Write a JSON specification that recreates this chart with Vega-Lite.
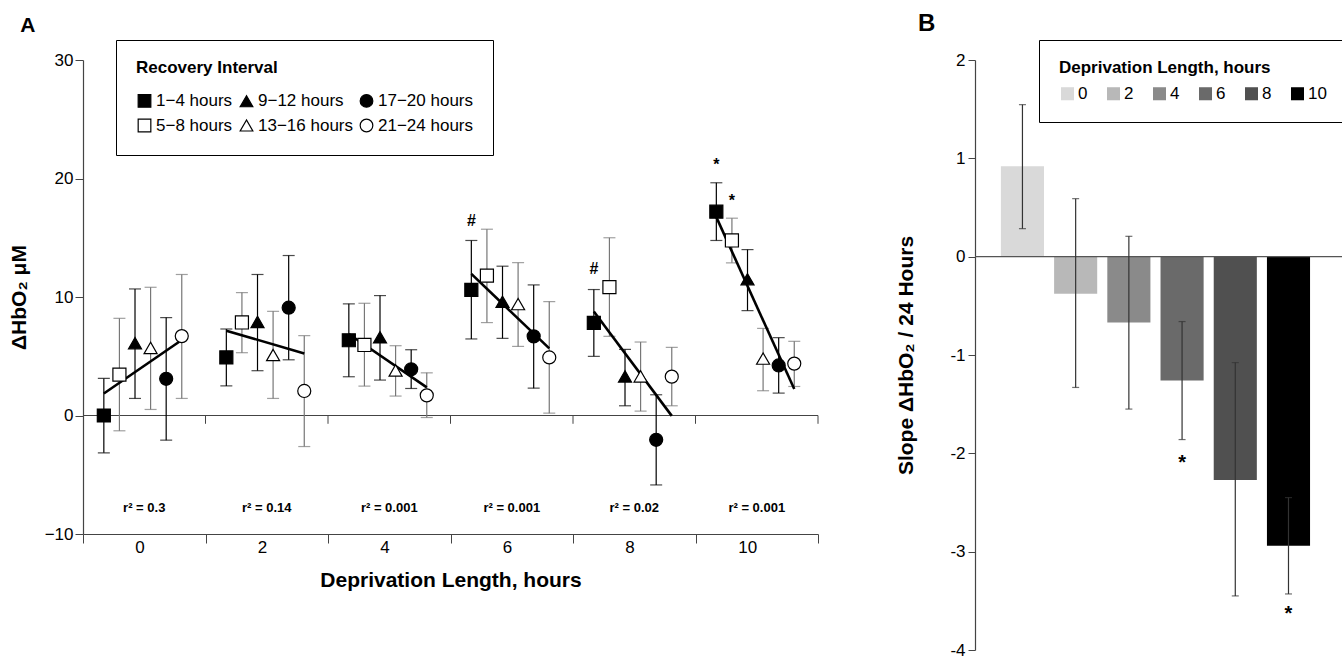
{
  "$schema": "https://vega.github.io/schema/vega-lite/v6.json",
  "padding": {"left": 8, "top": 11, "right": 0, "bottom": 0},
  "spacing": 76,
  "background": "white",
  "config": {
    "font": "Liberation Sans",
    "view": {"stroke": null},
    "axis": {"domainColor": "#444", "tickColor": "#444", "labelColor": "black", "titleColor": "black", "grid": false, "labelFontSize": 17, "titleFontSize": 21, "titleFontWeight": "bold", "labelFont": "Liberation Sans", "titleFont": "Liberation Sans"},
    "title": {"font": "Liberation Sans", "fontWeight": "bold", "color": "black"}
  },
  "resolve": {"scale": {"color": "independent", "fill": "independent", "stroke": "independent", "shape": "independent", "size": "independent", "x": "independent", "y": "independent"}},
  "datasets": {
    "pts": [
      {"dep": 0, "interval": "1−4 hours", "mean": 0, "lo": -3.15, "hi": 3.13},
      {"dep": 0, "interval": "5−8 hours", "mean": 3.45, "lo": -1.29, "hi": 8.2},
      {"dep": 0, "interval": "9−12 hours", "mean": 6.1, "lo": 1.44, "hi": 10.68},
      {"dep": 0, "interval": "13−16 hours", "mean": 5.7, "lo": 0.51, "hi": 10.82},
      {"dep": 0, "interval": "17−20 hours", "mean": 3.1, "lo": -2.08, "hi": 8.26},
      {"dep": 0, "interval": "21−24 hours", "mean": 6.7, "lo": 1.44, "hi": 11.9},
      {"dep": 2, "interval": "1−4 hours", "mean": 4.9, "lo": 2.5, "hi": 7.3},
      {"dep": 2, "interval": "5−8 hours", "mean": 7.85, "lo": 5.3, "hi": 10.37},
      {"dep": 2, "interval": "9−12 hours", "mean": 7.9, "lo": 3.78, "hi": 11.9},
      {"dep": 2, "interval": "13−16 hours", "mean": 5.1, "lo": 1.44, "hi": 8.79},
      {"dep": 2, "interval": "17−20 hours", "mean": 9.1, "lo": 4.7, "hi": 13.5},
      {"dep": 2, "interval": "21−24 hours", "mean": 2.07, "lo": -2.62, "hi": 6.74},
      {"dep": 4, "interval": "1−4 hours", "mean": 6.35, "lo": 3.27, "hi": 9.42},
      {"dep": 4, "interval": "5−8 hours", "mean": 5.95, "lo": 2.48, "hi": 9.47},
      {"dep": 4, "interval": "9−12 hours", "mean": 6.6, "lo": 2.99, "hi": 10.12},
      {"dep": 4, "interval": "13−16 hours", "mean": 3.8, "lo": 1.64, "hi": 5.89},
      {"dep": 4, "interval": "17−20 hours", "mean": 3.9, "lo": 2.28, "hi": 5.55},
      {"dep": 4, "interval": "21−24 hours", "mean": 1.7, "lo": -0.17, "hi": 3.6},
      {"dep": 6, "interval": "1−4 hours", "mean": 10.6, "lo": 6.46, "hi": 14.77},
      {"dep": 6, "interval": "5−8 hours", "mean": 11.8, "lo": 7.84, "hi": 15.72},
      {"dep": 6, "interval": "9−12 hours", "mean": 9.6, "lo": 6.51, "hi": 12.6},
      {"dep": 6, "interval": "13−16 hours", "mean": 9.4, "lo": 5.83, "hi": 12.9},
      {"dep": 6, "interval": "17−20 hours", "mean": 6.68, "lo": 2.31, "hi": 11.02},
      {"dep": 6, "interval": "21−24 hours", "mean": 4.9, "lo": 0.2, "hi": 9.61},
      {"dep": 8, "interval": "1−4 hours", "mean": 7.81, "lo": 4.99, "hi": 10.63},
      {"dep": 8, "interval": "5−8 hours", "mean": 10.84, "lo": 6.68, "hi": 15.0},
      {"dep": 8, "interval": "9−12 hours", "mean": 3.3, "lo": 0.82, "hi": 5.58},
      {"dep": 8, "interval": "13−16 hours", "mean": 3.3, "lo": 0.37, "hi": 6.2},
      {"dep": 8, "interval": "17−20 hours", "mean": -2.05, "lo": -5.86, "hi": 1.75},
      {"dep": 8, "interval": "21−24 hours", "mean": 3.28, "lo": 0.82, "hi": 5.75},
      {"dep": 10, "interval": "1−4 hours", "mean": 17.2, "lo": 14.77, "hi": 19.64},
      {"dep": 10, "interval": "5−8 hours", "mean": 14.77, "lo": 12.88, "hi": 16.65},
      {"dep": 10, "interval": "9−12 hours", "mean": 11.5, "lo": 8.85, "hi": 14.0},
      {"dep": 10, "interval": "13−16 hours", "mean": 4.8, "lo": 2.09, "hi": 7.35},
      {"dep": 10, "interval": "17−20 hours", "mean": 4.22, "lo": 1.89, "hi": 6.57},
      {"dep": 10, "interval": "21−24 hours", "mean": 4.38, "lo": 2.45, "hi": 6.26}
    ],
    "fits": [
      {"dep": 0, "interval": "1−4 hours", "fit": 1.86},
      {"dep": 0, "interval": "21−24 hours", "fit": 6.37},
      {"dep": 2, "interval": "1−4 hours", "fit": 7.16},
      {"dep": 2, "interval": "21−24 hours", "fit": 5.24},
      {"dep": 4, "interval": "1−4 hours", "fit": 6.88},
      {"dep": 4, "interval": "21−24 hours", "fit": 2.37},
      {"dep": 6, "interval": "1−4 hours", "fit": 11.95},
      {"dep": 6, "interval": "21−24 hours", "fit": 5.66},
      {"dep": 8, "interval": "1−4 hours", "fit": 8.77},
      {"dep": 8, "interval": "21−24 hours", "fit": -0.03},
      {"dep": 10, "interval": "1−4 hours", "fit": 16.74},
      {"dep": 10, "interval": "21−24 hours", "fit": 2.23}
    ],
    "r2": [
      {"dep": 0, "label": "r² = 0.3"},
      {"dep": 2, "label": "r² = 0.14"},
      {"dep": 4, "label": "r² = 0.001"},
      {"dep": 6, "label": "r² = 0.001"},
      {"dep": 8, "label": "r² = 0.02"},
      {"dep": 10, "label": "r² = 0.001"}
    ],
    "marksA": [
      {"dep": 6, "interval": "1−4 hours", "y": 16.4, "label": "#"},
      {"dep": 8, "interval": "1−4 hours", "y": 12.4, "label": "#"},
      {"dep": 10, "interval": "1−4 hours", "y": 21.1, "label": "*"},
      {"dep": 10, "interval": "5−8 hours", "y": 18.1, "label": "*"}
    ],
    "bars": [
      {"dep": "0", "slope": 0.92, "lo": 0.285, "hi": 1.546},
      {"dep": "2", "slope": -0.376, "lo": -1.33, "hi": 0.59},
      {"dep": "4", "slope": -0.67, "lo": -1.55, "hi": 0.207},
      {"dep": "6", "slope": -1.26, "lo": -1.86, "hi": -0.66},
      {"dep": "8", "slope": -2.27, "lo": -3.45, "hi": -1.077},
      {"dep": "10", "slope": -2.94, "lo": -3.43, "hi": -2.45}
    ],
    "marksB": [
      {"dep": "6", "y": -2.1, "label": "*"},
      {"dep": "10", "y": -3.63, "label": "*"}
    ]
  },
  "hconcat": [
    {
      "width": 735,
      "height": 474,
      "title": {"text": "A", "anchor": "start", "frame": "bounds", "fontSize": 21, "dx": 12, "offset": 4},
      "layer": [
        {
          "data": {"values": [{"z": 0}]},
          "mark": {"type": "rule", "color": "#444", "strokeWidth": 1.2},
          "encoding": {"y": {"field": "z", "type": "quantitative"}}
        },
        {
          "data": {"values": [{"dep": 2}, {"dep": 4}, {"dep": 6}, {"dep": 8}, {"dep": 10}]},
          "mark": {"type": "rule", "color": "#444"},
          "encoding": {
            "x": {"field": "dep", "type": "ordinal", "bandPosition": 0},
            "y": {"datum": 0, "type": "quantitative"},
            "y2": {"datum": -0.7}
          }
        },
        {
          "data": {"values": [{"dep": 10}]},
          "mark": {"type": "rule", "color": "#444"},
          "encoding": {
            "x": {"field": "dep", "type": "ordinal", "bandPosition": 1},
            "y": {"datum": 0, "type": "quantitative"},
            "y2": {"datum": -0.7}
          }
        },
        {
          "data": {"name": "pts"},
          "mark": {"type": "rule", "strokeWidth": 1.2},
          "encoding": {
            "x": {"field": "dep", "type": "ordinal"},
            "xOffset": {"field": "interval", "type": "nominal"},
            "y": {"field": "lo", "type": "quantitative"},
            "y2": {"field": "hi"},
            "stroke": {"condition": {"test": "indexof(['1−4 hours', '9−12 hours', '17−20 hours'], datum.interval) >= 0", "value": "black"}, "value": "#777"}
          }
        },
        {
          "data": {"name": "pts"},
          "mark": {"type": "tick", "size": 12, "thickness": 1.2},
          "encoding": {
            "x": {"field": "dep", "type": "ordinal"},
            "xOffset": {"field": "interval", "type": "nominal"},
            "y": {"field": "lo", "type": "quantitative"},
            "color": {"condition": {"test": "indexof(['1−4 hours', '9−12 hours', '17−20 hours'], datum.interval) >= 0", "value": "black"}, "value": "#777"}
          }
        },
        {
          "data": {"name": "pts"},
          "mark": {"type": "tick", "size": 12, "thickness": 1.2},
          "encoding": {
            "x": {"field": "dep", "type": "ordinal"},
            "xOffset": {"field": "interval", "type": "nominal"},
            "y": {"field": "hi", "type": "quantitative"},
            "color": {"condition": {"test": "indexof(['1−4 hours', '9−12 hours', '17−20 hours'], datum.interval) >= 0", "value": "black"}, "value": "#777"}
          }
        },
        {
          "data": {"name": "fits"},
          "mark": {"type": "line", "color": "black", "strokeWidth": 2.6},
          "encoding": {
            "x": {"field": "dep", "type": "ordinal"},
            "xOffset": {"field": "interval", "type": "nominal"},
            "y": {"field": "fit", "type": "quantitative"},
            "detail": {"field": "dep"}
          }
        },
        {
          "data": {"name": "pts"},
          "mark": {"type": "point", "strokeWidth": 1.2, "opacity": 1, "size": 170},
          "encoding": {
            "x": {
              "field": "dep", "type": "ordinal",
              "scale": {"type": "band", "paddingInner": 0, "paddingOuter": 0},
              "axis": {"title": "Deprivation Length, hours", "labelAngle": 0, "tickBand": "extent", "tickSize": 9, "labelPadding": 4, "titlePadding": 14, "domainWidth": 1.2}
            },
            "xOffset": {
              "field": "interval", "type": "nominal",
              "scale": {"type": "band", "paddingInner": 0, "paddingOuter": 0.93, "align": 0.45, "domain": ["1−4 hours", "5−8 hours", "9−12 hours", "13−16 hours", "17−20 hours", "21−24 hours"]}
            },
            "y": {
              "field": "mean", "type": "quantitative",
              "scale": {"domain": [-10, 30], "nice": false, "zero": false},
              "axis": {"title": "ΔHbO₂ μM", "values": [-10, 0, 10, 20, 30], "tickSize": 8, "labelPadding": 2, "titlePadding": 15, "domainWidth": 1.2}
            },
            "shape": {
              "field": "interval", "type": "nominal",
              "scale": {"domain": ["1−4 hours", "9−12 hours", "17−20 hours", "5−8 hours", "13−16 hours", "21−24 hours"], "range": ["square", "triangle-up", "circle", "square", "triangle-up", "circle"]},
              "legend": {"title": "Recovery Interval", "orient": "none", "legendX": 33, "legendY": -20, "direction": "horizontal", "columns": 3, "strokeColor": "black", "fillColor": "white", "padding": 20, "titleFontSize": 17, "titleFontWeight": "bold", "titleColor": "black", "labelFontSize": 17, "labelColor": "black", "symbolStrokeWidth": 1.2, "symbolSize": 160, "columnPadding": 4, "rowPadding": 6, "titlePadding": 15, "labelOffset": 3, "labelLimit": 300}
            },
            "fill": {
              "field": "interval", "type": "nominal",
              "scale": {"domain": ["1−4 hours", "9−12 hours", "17−20 hours", "5−8 hours", "13−16 hours", "21−24 hours"], "range": ["black", "black", "black", "white", "white", "white"]},
              "legend": {"title": "Recovery Interval", "orient": "none", "legendX": 33, "legendY": -20, "direction": "horizontal", "columns": 3, "strokeColor": "black", "fillColor": "white", "padding": 20, "titleFontSize": 17, "titleFontWeight": "bold", "titleColor": "black", "labelFontSize": 17, "labelColor": "black", "symbolStrokeWidth": 1.2, "symbolSize": 160, "columnPadding": 4, "rowPadding": 6, "titlePadding": 15, "labelOffset": 3, "labelLimit": 300}
            },
            "stroke": {
              "field": "interval", "type": "nominal",
              "scale": {"domain": ["1−4 hours", "9−12 hours", "17−20 hours", "5−8 hours", "13−16 hours", "21−24 hours"], "range": ["black", "black", "black", "black", "black", "black"]},
              "legend": {"title": "Recovery Interval", "orient": "none", "legendX": 33, "legendY": -20, "direction": "horizontal", "columns": 3, "strokeColor": "black", "fillColor": "white", "padding": 20, "titleFontSize": 17, "titleFontWeight": "bold", "titleColor": "black", "labelFontSize": 17, "labelColor": "black", "symbolStrokeWidth": 1.2, "symbolSize": 160, "columnPadding": 4, "rowPadding": 6, "titlePadding": 15, "labelOffset": 3, "labelLimit": 300}
            }
          }
        },
        {
          "data": {"name": "r2"},
          "mark": {"type": "text", "fontSize": 13, "fontWeight": "bold", "color": "black", "baseline": "middle"},
          "encoding": {
            "x": {"field": "dep", "type": "ordinal"},
            "y": {"datum": -7.8, "type": "quantitative"},
            "text": {"field": "label"}
          }
        },
        {
          "data": {"name": "marksA"},
          "mark": {"type": "text", "fontSize": 16, "fontWeight": "bold", "color": "black", "baseline": "middle"},
          "encoding": {
            "x": {"field": "dep", "type": "ordinal"},
            "xOffset": {"field": "interval", "type": "nominal"},
            "y": {"field": "y", "type": "quantitative"},
            "text": {"field": "label"}
          }
        }
      ]
    },
    {
      "width": 368,
      "height": 590,
      "title": {"text": "B", "anchor": "start", "frame": "bounds", "fontSize": 24, "dx": 22, "offset": 4},
      "layer": [
        {
          "data": {"name": "bars"},
          "mark": {"type": "bar"},
          "encoding": {
            "x": {"field": "dep", "type": "ordinal", "sort": ["0", "2", "4", "6", "8", "10"], "scale": {"type": "band", "paddingInner": 0.19, "paddingOuter": 0.553, "align": 0.44}, "axis": null},
            "y": {
              "field": "slope", "type": "quantitative",
              "scale": {"domain": [-4, 2], "nice": false},
              "axis": {"title": "Slope ΔHbO₂ / 24 Hours", "values": [-4, -3, -2, -1, 0, 1, 2], "format": "d", "labelExpr": "replace(datum.label, '−', '-')", "tickSize": 7, "labelPadding": 3, "titlePadding": 33, "domainWidth": 1.2}
            },
            "color": {
              "field": "dep", "type": "ordinal", "sort": ["0", "2", "4", "6", "8", "10"],
              "scale": {"domain": ["0", "2", "4", "6", "8", "10"], "range": ["#d9d9d9", "#b8b8b8", "#8a8a8a", "#6a6a6a", "#505050", "#000000"]},
              "legend": {"title": "Deprivation Length, hours", "orient": "none", "legendX": 64, "legendY": -20, "direction": "horizontal", "columns": 6, "strokeColor": "black", "fillColor": "white", "padding": 20, "titleFontSize": 17, "titleFontWeight": "bold", "titleColor": "black", "titleLimit": 400, "labelFontSize": 17, "labelColor": "black", "symbolType": "square", "symbolSize": 170, "symbolStrokeWidth": 0, "columnPadding": 17, "titlePadding": 8, "labelOffset": 2}
            }
          }
        },
        {
          "data": {"values": [{"z": 0}]},
          "mark": {"type": "rule", "color": "#555", "strokeWidth": 1.2},
          "encoding": {"y": {"field": "z", "type": "quantitative"}}
        },
        {
          "data": {"name": "bars"},
          "mark": {"type": "rule", "color": "#333", "strokeWidth": 1.2},
          "encoding": {
            "x": {"field": "dep", "type": "ordinal", "sort": ["0", "2", "4", "6", "8", "10"]},
            "y": {"field": "lo", "type": "quantitative"},
            "y2": {"field": "hi"}
          }
        },
        {
          "data": {"name": "bars"},
          "mark": {"type": "tick", "size": 7, "thickness": 1.2, "color": "#333"},
          "encoding": {
            "x": {"field": "dep", "type": "ordinal", "sort": ["0", "2", "4", "6", "8", "10"]},
            "y": {"field": "lo", "type": "quantitative"}
          }
        },
        {
          "data": {"name": "bars"},
          "mark": {"type": "tick", "size": 7, "thickness": 1.2, "color": "#333"},
          "encoding": {
            "x": {"field": "dep", "type": "ordinal", "sort": ["0", "2", "4", "6", "8", "10"]},
            "y": {"field": "hi", "type": "quantitative"}
          }
        },
        {
          "data": {"name": "marksB"},
          "mark": {"type": "text", "fontSize": 20, "fontWeight": "bold", "color": "black", "baseline": "middle"},
          "encoding": {
            "x": {"field": "dep", "type": "ordinal", "sort": ["0", "2", "4", "6", "8", "10"]},
            "y": {"field": "y", "type": "quantitative"},
            "text": {"field": "label"}
          }
        }
      ]
    }
  ]
}
